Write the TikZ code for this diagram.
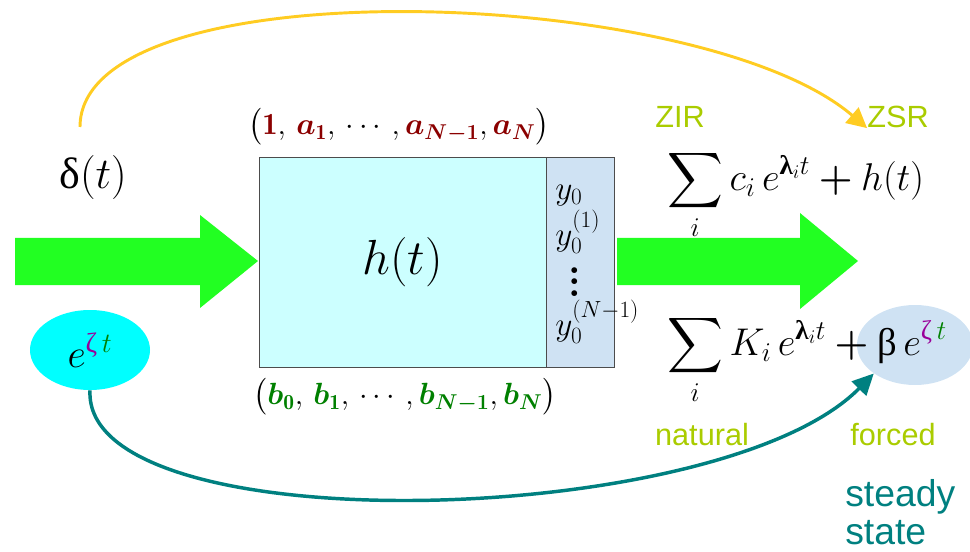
\RequirePackage{fix-cm}
\documentclass[tikz,border=0pt]{standalone}
\usepackage{amsmath,amssymb}
\usepackage{fontspec}
\usepackage{tikz}
\usetikzlibrary{arrows.meta,positioning,shapes.geometric}
\newfontfamily\labelfont{Liberation Sans}
\newfontfamily\greekfont{Liberation Serif}
\newcommand{\gr}[1]{\text{\greekfont #1}}
\newcommand{\bgr}[1]{\text{\greekfont\bfseries #1}}
\definecolor{arcgold}{HTML}{FFCC22}
\definecolor{flowgreen}{HTML}{22FF22}
\definecolor{tagolive}{HTML}{AACC00}
\definecolor{steadyteal}{HTML}{008080}
\definecolor{boxcyan}{HTML}{CCFFFF}
\definecolor{inputcyan}{HTML}{00FFFF}
\definecolor{softblue}{HTML}{CFE2F3}
\definecolor{coefred}{HTML}{8B0000}
\definecolor{coefgreen}{HTML}{008000}
\definecolor{zetapurple}{HTML}{990099}

\begin{document}
\begin{tikzpicture}[
      x=0.75pt,y=-0.75pt,
      tag/.style={font=\labelfont\fontsize{23}{27}\selectfont,text=tagolive,inner sep=0pt},
      formula/.style={font=\fontsize{29}{34}\selectfont,inner sep=0pt},
      initval/.style={font=\fontsize{25}{29}\selectfont,inner sep=0pt,anchor=base west},
      bigarrow/.style={fill=flowgreen},
      node distance=0.35cm
    ]
    \useasboundingbox (0,0) rectangle (970,552);
    % input and output flow
    \fill[bigarrow] (15,238) -- (200,238) -- (200,215) -- (258,261) -- (200,308) -- (200,285) -- (15,285) -- cycle;
    \fill[bigarrow] (617,238) -- (800,238) -- (800,213) -- (858,261) -- (800,309) -- (800,285) -- (617,285) -- cycle;
    % system box
    \node[draw=black!70,fill=boxcyan,minimum width=215.25pt,minimum height=157.5pt,font=\fontsize{37}{42}\selectfont] (sys) at (402.5,262) {$h(t)$};
    \node[draw=black!70,fill=softblue,minimum width=51pt,minimum height=157.5pt,right=0pt of sys] (init) {};
    \node[initval] (y0) at (555,200) {$y_0$};
    \node[initval] (y1) at (555,245) {$y_0^{(1)}$};
    \node[font=\bfseries\fontsize{30}{8.6}\selectfont,align=center,inner sep=0pt] (ydots) at (575,282) {.\\.\\.};
    \node[initval] (yn) at (555,335) {$y_0^{(N-1)}$};
    \node[formula,font=\fontsize{23}{27}\selectfont] (acoef) at (399,127)
      {$\bigl(\textcolor{coefred}{\mathbf{1}},\, \textcolor{coefred}{\boldsymbol{a}_{\mathbf{1}}},\,\cdots,\textcolor{coefred}{\boldsymbol{a}_{\boldsymbol{N-1}}},\textcolor{coefred}{\boldsymbol{a}_{\boldsymbol{N}}}\bigr)$};
    \node[formula,font=\fontsize{23}{27}\selectfont] (bcoef) at (405,397)
      {$\bigl(\textcolor{coefgreen}{\boldsymbol{b}_{\mathbf{0}}},\, \textcolor{coefgreen}{\boldsymbol{b}_{\mathbf{1}}},\,\cdots,\textcolor{coefgreen}{\boldsymbol{b}_{\boldsymbol{N-1}}},\textcolor{coefgreen}{\boldsymbol{b}_{\boldsymbol{N}}}\bigr)$};
    % inputs
    \node[formula,font=\fontsize{33}{38}\selectfont] (delta) at (93,178) {$\gr{δ}(t)$};
    \coordinate (dtop) at (80,127);
    \node[ellipse,fill=inputcyan,minimum width=90pt,minimum height=60pt,inner sep=0pt,font=\fontsize{30}{34}\selectfont] (ezt) at (90,350)
      {$e^{\textcolor{zetapurple}{\gr{ζ}}\,\textcolor{coefgreen}{t}}$};
    % responses
    \node[ellipse,fill=softblue,minimum width=87pt,minimum height=60pt] (ss) at (915,345) {};
    \node[formula,anchor=west] (zsrsum) at (667,195)
      {$\displaystyle\sum_i c_i\, e^{\bgr{λ}_i t} \mathbin{\boldsymbol{+}} h(t)$};
    \node[formula,anchor=west] (natsum) at (667,360)
      {$\displaystyle\sum_i K_i\, e^{\bgr{λ}_i t} \mathbin{\boldsymbol{+}} \gr{β}\, e^{\textcolor{zetapurple}{\gr{ζ}}\,\textcolor{coefgreen}{t}}$};
    \node[tag] (zir) at (680,117) {ZIR};
    \node[tag] (zsr) at (898,117) {ZSR};
    \node[tag] (natural) at (702,435) {natural};
    \node[tag] (forced) at (893,435) {forced};
    \node[tag,text=steadyteal,font=\labelfont\fontsize{28}{29}\selectfont,align=left,anchor=west] (steady) at (845,512) {steady\\state};
    % connectors
    \draw[arcgold,line width=2.2pt,-{Triangle[length=15pt,width=15pt]}] (dtop) .. controls (80,-35) and (700,-15) .. (zsr.south west);
    \draw[steadyteal,line width=2.6pt,-{Triangle[length=16pt,width=15pt]}] (ezt.south) .. controls (82,545) and (720,530) .. (ss.south west);
  \end{tikzpicture}
\end{document}
